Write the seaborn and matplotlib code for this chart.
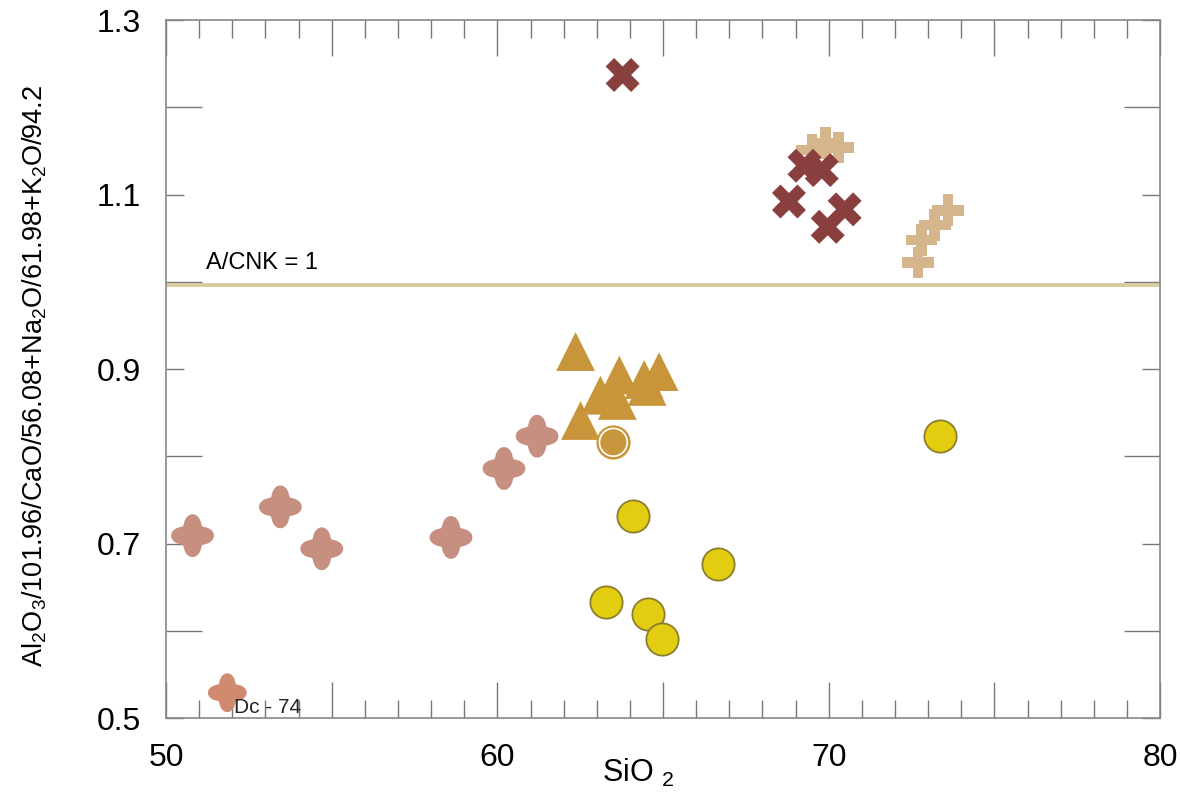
import numpy as np
import matplotlib
matplotlib.use('Agg')
import matplotlib.pyplot as plt
from matplotlib.path import Path
from matplotlib.ticker import MultipleLocator, FuncFormatter
import seaborn as sns


# 데이터
petal_sio2 = [50.8, 53.45, 54.7, 58.6, 60.2, 61.2]
petal_acnk = [0.709, 0.742, 0.694, 0.707, 0.786, 0.823]

dc74_sio2 = [51.85]
dc74_acnk = [0.529]

tri_sio2 = [62.36, 63.68, 64.43, 64.88, 63.11, 63.62, 62.51, 64.52]
tri_acnk = [0.920, 0.893, 0.888, 0.897, 0.870, 0.864, 0.841, 0.880]

ring_sio2 = [63.5]
ring_acnk = [0.816]

circ_sio2 = [73.36, 64.08, 66.67, 63.27, 64.56, 64.98]
circ_acnk = [0.823, 0.731, 0.677, 0.633, 0.619, 0.591]

x_sio2 = [63.78, 69.27, 69.79, 68.8, 70.48, 69.97]
x_acnk = [1.237, 1.133, 1.128, 1.092, 1.083, 1.063]

plus_sio2 = [69.5, 69.9, 70.3, 73.6, 73.2, 72.8, 72.7]
plus_acnk = [1.151, 1.159, 1.154, 1.082, 1.065, 1.048, 1.022]

acnk_line = 0.996


# 꽃잎 모양 마커
theta = np.linspace(0, 2 * np.pi, 240)
r = 0.63 + 0.37 * np.abs(np.cos(2 * theta)) ** 1.5
petal = Path(np.column_stack([r * np.cos(theta), r * np.sin(theta)]), closed=True)

sns.set_style('ticks')
plt.rcParams['font.family'] = ['Liberation Sans', 'DejaVu Sans']
plt.rcParams['mathtext.default'] = 'regular'
plt.rcParams['text.color'] = 'black'
plt.rcParams['axes.labelcolor'] = 'black'
plt.rcParams['xtick.labelcolor'] = 'black'
plt.rcParams['ytick.labelcolor'] = 'black'

fig = plt.figure(figsize=(11.8, 8.01), dpi=100)
ax = fig.add_axes([0.1407, 0.1036, 0.8424, 0.8714])

ax.axhline(acnk_line, color='#D9CC9C', lw=2.8, zorder=1)
ax.text(51.2, 1.015, 'A/CNK = 1', fontsize=17, color='black')

sns.scatterplot(x=petal_sio2, y=petal_acnk, marker=petal, s=950,
                color='#C68F80', edgecolor='none', linewidth=0, ax=ax, zorder=3)
sns.scatterplot(x=dc74_sio2, y=dc74_acnk, marker=petal, s=780,
                color='#CF8A70', edgecolor='none', linewidth=0, ax=ax, zorder=3)
ax.text(52.05, 0.512, 'Dc - 74', fontsize=15, color='#222222', va='center', zorder=4)

sns.scatterplot(x=tri_sio2, y=tri_acnk, marker='^', s=780,
                color='#C8953A', edgecolor='none', linewidth=0, ax=ax, zorder=3)

sns.scatterplot(x=ring_sio2, y=ring_acnk, marker='o', s=560,
                color='#C8963C', edgecolor='#C8963C', linewidth=1, ax=ax, zorder=4)
ax.scatter(ring_sio2, ring_acnk, marker='o', s=400, facecolor='none',
           edgecolor='white', linewidth=1.2, zorder=5)

sns.scatterplot(x=circ_sio2, y=circ_acnk, marker='o', s=540,
                color='#E2CD10', edgecolor='#8C7E2E', linewidth=1.3, ax=ax, zorder=3)

sns.scatterplot(x=plus_sio2, y=plus_acnk, marker='P', s=520,
                color='#D5B68C', edgecolor='none', linewidth=0, ax=ax, zorder=3)

sns.scatterplot(x=x_sio2, y=x_acnk, marker='X', s=600,
                color='#8A3F3F', edgecolor='none', linewidth=0, ax=ax, zorder=4)

ax.set_xlim(50, 80)
ax.set_ylim(0.5, 1.3)

# 눈금
ax.xaxis.set_major_locator(MultipleLocator(5))
ax.xaxis.set_minor_locator(MultipleLocator(1))
ax.xaxis.set_major_formatter(FuncFormatter(lambda v, p: f'{v:.0f}' if v % 10 == 0 else ''))
ax.yaxis.set_major_locator(MultipleLocator(0.2, offset=0.1))
ax.yaxis.set_minor_locator(MultipleLocator(0.2))
ax.yaxis.set_major_formatter(FuncFormatter(lambda v, p: f'{v:.1f}'))

ax.tick_params(axis='x', which='major', direction='in', length=26, width=1,
               color='#777777', top=True, bottom=True, labelsize=23, pad=18)
ax.tick_params(axis='x', which='minor', direction='in', length=13, width=1,
               color='#777777', top=True, bottom=True)
ax.tick_params(axis='y', which='major', direction='in', length=13, width=1,
               color='#777777', left=True, right=True, labelsize=23, pad=18)
ax.tick_params(axis='y', which='minor', direction='in', length=26, width=1,
               color='#777777', left=True, right=True)

for s in ax.spines.values():
    s.set_visible(True)
    s.set_color('#888888')
    s.set_linewidth(1.2)

ax.set_xlabel('SiO $_2$', fontsize=22)
ax.xaxis.set_label_coords(0.475, -0.055)
ax.set_ylabel('Al$_2$O$_3$/101.96/CaO/56.08+Na$_2$O/61.98+K$_2$O/94.2', fontsize=19.5)
ax.yaxis.set_label_coords(-0.118, 0.49)

fig.savefig('out.png', dpi=100)
